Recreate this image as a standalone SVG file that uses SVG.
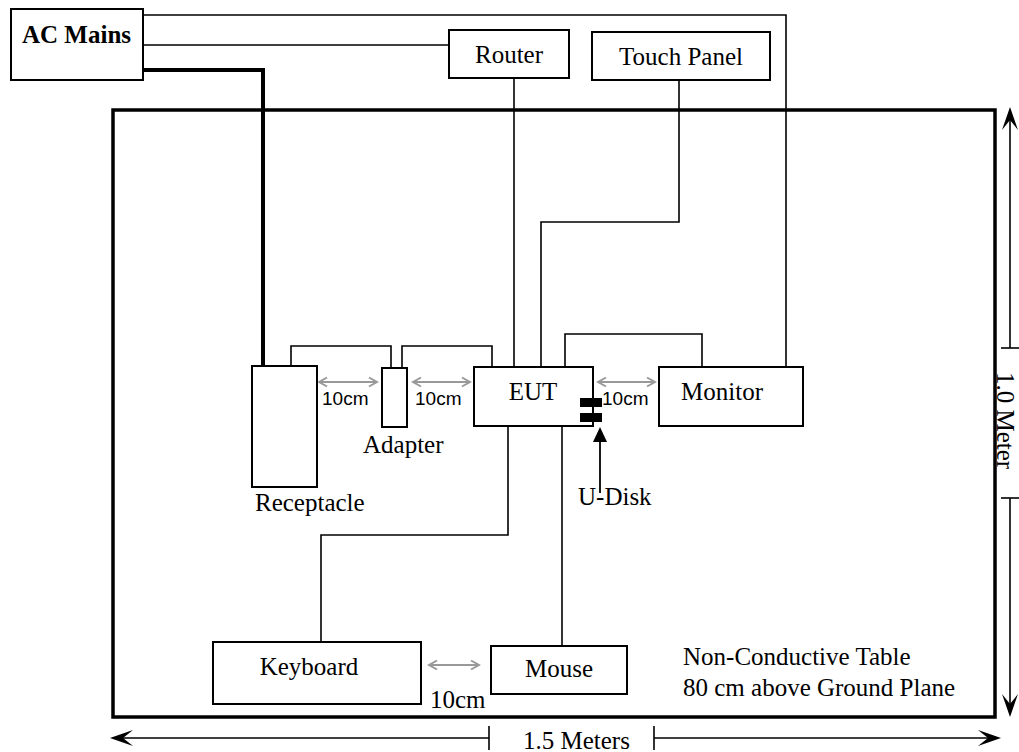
<svg xmlns="http://www.w3.org/2000/svg" width="1019" height="752" viewBox="0 0 1019 752">
<defs>
<style>
.box{fill:#fff;stroke:#000;stroke-width:2}
.w{fill:none;stroke:#000;stroke-width:1.6}
.thick{fill:none;stroke:#000;stroke-width:4}
.gray{fill:none;stroke:#999;stroke-width:2.2;marker-start:url(#ga);marker-end:url(#ga)}
.dim{fill:none;stroke:#000;stroke-width:1.6}
.t{font-family:"Liberation Serif","Times New Roman",serif;font-size:25px;fill:#000}
.s{font-family:"Liberation Sans",Arial,sans-serif;font-size:19px;fill:#000}
</style>
<marker id="ga" viewBox="-10 -6 12 12" refX="0" refY="0" markerWidth="12" markerHeight="12" markerUnits="userSpaceOnUse" orient="auto-start-reverse">
<path d="M-8,-4.5 L0,0 L-8,4.5" fill="none" stroke="#999" stroke-width="2"/>
</marker>
<path id="bh" d="M0,0 L-23,-8 L-13,0 L-23,8 Z" fill="#000"/>
</defs>
<rect id="table" x="113" y="110" width="882" height="607" fill="none" stroke="#000" stroke-width="3.5"/>
<g id="connectors">
<polyline class="w" points="143,15 786,15 786,367"/>
<polyline class="w" points="143,45 449,45"/>
<polyline class="thick" points="143,70 263,70 263,366"/>
<polyline class="w" points="514,78 514,367"/>
<polyline class="w" points="679,80 679,222 541,222 541,367"/>
<polyline class="w" points="291,366 291,346 391,346 391,368"/>
<polyline class="w" points="402,368 402,346 492,346 492,367"/>
<polyline class="w" points="565,367 565,334 702,334 702,367"/>
<polyline class="w" points="508,426 508,535 321,535 321,642"/>
<polyline class="w" points="562,426 562,646"/>
<line class="gray" x1="319" y1="382" x2="377" y2="382"/>
<line class="gray" x1="413" y1="382" x2="470" y2="382"/>
<line class="gray" x1="598" y1="382" x2="655" y2="382"/>
<line class="gray" x1="429" y1="665" x2="479" y2="665"/>
<line x1="600" y1="493" x2="600" y2="440" stroke="#000" stroke-width="1.8"/>
<polygon points="600,427 593,442 607,442" fill="#000"/>
</g>
<g id="ac-mains"><rect class="box" x="11" y="9" width="132" height="71"/><text x="22" y="43" class="t" font-weight="bold" font-size="24">AC Mains</text></g>
<g id="router"><rect class="box" x="449" y="30" width="120" height="48"/><text x="509" y="63" class="t" text-anchor="middle">Router</text></g>
<g id="touch-panel"><rect class="box" x="592" y="32" width="178" height="48"/><text x="681" y="65" class="t" text-anchor="middle">Touch Panel</text></g>
<g id="receptacle"><rect class="box" x="252" y="366" width="65" height="121"/><text x="255" y="511" class="t">Receptacle</text></g>
<g id="adapter"><rect class="box" x="382" y="368" width="25" height="59"/><text x="363" y="453" class="t">Adapter</text></g>
<g id="eut"><rect class="box" x="474" y="367" width="119" height="59"/><text x="533" y="400" class="t" text-anchor="middle">EUT</text>
<rect x="580" y="398" width="22" height="9" fill="#000"/><rect x="580" y="413" width="22" height="9" fill="#000"/></g>
<g id="monitor"><rect class="box" x="659" y="367" width="144" height="59"/><text x="722" y="400" class="t" text-anchor="middle">Monitor</text></g>
<g id="u-disk"><text x="578" y="505" class="t" font-size="23">U-Disk</text></g>
<g id="keyboard"><rect class="box" x="213" y="642" width="208" height="62"/><text x="309" y="675" class="t" text-anchor="middle">Keyboard</text></g>
<g id="mouse"><rect class="box" x="491" y="646" width="136" height="48"/><text x="559" y="677" class="t" text-anchor="middle">Mouse</text></g>
<g id="labels">
<text x="322" y="405" class="s">10cm</text>
<text x="415" y="405" class="s">10cm</text>
<text x="602" y="405" class="s">10cm</text>
<text x="430" y="708" class="t" font-size="20">10cm</text>
<text x="683" y="665" class="t">Non-Conductive Table</text>
<text x="683" y="696" class="t">80 cm above Ground Plane</text>
</g>
<g id="dimensions">
<line class="dim" x1="120" y1="738" x2="489" y2="738"/>
<line class="dim" x1="489" y1="726" x2="489" y2="750"/>
<line class="dim" x1="654" y1="738" x2="992" y2="738"/>
<line class="dim" x1="654" y1="726" x2="654" y2="750"/>
<use href="#bh" transform="translate(110,738) rotate(180)"/>
<use href="#bh" transform="translate(1001,738)"/>
<text x="523" y="749" class="t" font-size="20">1.5 Meters</text>
<line class="dim" x1="1010" y1="116" x2="1010" y2="348"/>
<line class="dim" x1="1001" y1="348" x2="1019" y2="348"/>
<line class="dim" x1="1010" y1="498" x2="1010" y2="709"/>
<line class="dim" x1="1001" y1="498" x2="1019" y2="498"/>
<use href="#bh" transform="translate(1010,107) rotate(-90)"/>
<use href="#bh" transform="translate(1010,717) rotate(90)"/>
<text class="t" font-size="18" transform="translate(997,372) rotate(90)">1.0 Meter</text>
</g>
</svg>
